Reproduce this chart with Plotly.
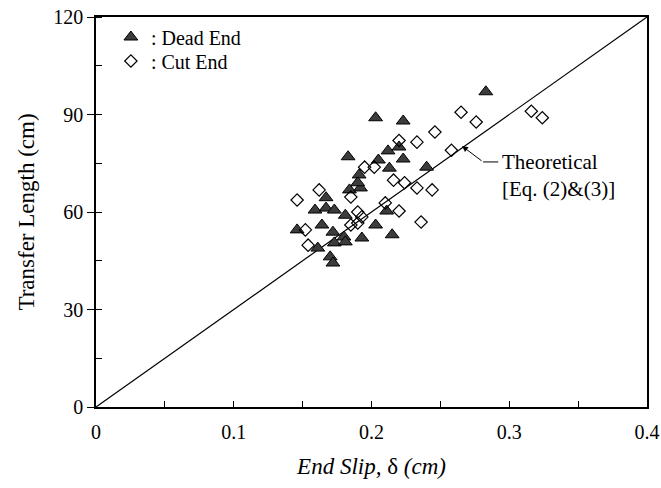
import plotly.graph_objects as go

# Dead End (filled triangles)
dead_slip = [0.146, 0.159, 0.161, 0.164, 0.167, 0.167, 0.170, 0.172, 0.172, 0.173,
             0.173, 0.180, 0.181, 0.181, 0.183, 0.184, 0.191, 0.192, 0.190, 0.193,
             0.203, 0.203, 0.205, 0.211, 0.212, 0.213, 0.215, 0.220, 0.223, 0.223,
             0.240, 0.283]
dead_len = [54.5, 60.6, 48.9, 56.0, 64.4, 61.2, 46.2, 44.3, 53.8, 60.6,
            50.5, 52.3, 50.8, 59.0, 77.0, 66.8, 71.4, 67.4, 69.0, 52.0,
            89.0, 56.0, 76.0, 60.3, 78.8, 73.5, 53.0, 80.0, 88.0, 76.3,
            73.8, 97.0]

# Cut End (open diamonds)
cut_slip = [0.146, 0.152, 0.154, 0.162, 0.185, 0.185, 0.190, 0.193, 0.190, 0.195,
            0.202, 0.210, 0.216, 0.220, 0.220, 0.224, 0.233, 0.233, 0.236, 0.244,
            0.246, 0.258, 0.265, 0.276, 0.316, 0.324]
cut_len = [63.7, 54.5, 49.8, 66.8, 64.6, 56.0, 60.0, 58.5, 56.6, 73.8,
           73.8, 62.8, 69.8, 82.0, 60.3, 69.0, 81.5, 67.4, 56.9, 66.8,
           84.6, 79.0, 90.7, 87.7, 91.0, 89.0]

# Theoretical line endpoints
theo_slip = [0.0, 0.4]
theo_len = [0.0, 120.0]

x_ticks = [0, 0.1, 0.2, 0.3, 0.4]
x_tick_text = ["0", "0.1", "0.2", "0.3", "0.4"]
y_ticks = [0, 30, 60, 90, 120]

FONT = "Liberation Serif"

fig = go.Figure()
fig.add_trace(go.Scatter(x=theo_slip, y=theo_len, mode="lines",
                         line=dict(color="black", width=1.2), showlegend=False,
                         hoverinfo="skip"))
fig.add_trace(go.Scatter(x=dead_slip, y=dead_len, mode="markers", name=": Dead End",
                         legend="legend",
                         marker=dict(symbol="triangle-up", size=12, color="#3c3c3c",
                                     line=dict(color="black", width=1))))
fig.add_trace(go.Scatter(x=cut_slip, y=cut_len, mode="markers", name=": Cut End",
                         legend="legend2",
                         marker=dict(symbol="diamond-open", size=9.5, color="black",
                                     line=dict(color="black", width=1.2))))

# Annotation: bent leader with arrow
fig.add_annotation(x=0.2657, y=80.3, ax=0.281, ay=75.4, axref="x", ayref="y",
                   xref="x", yref="y", text="", showarrow=True, arrowhead=2,
                   arrowsize=1.2, arrowwidth=1, arrowcolor="black")
fig.add_shape(type="line", x0=0.281, y0=75.4, x1=0.292, y1=75.4, xref="x", yref="y",
              line=dict(color="black", width=1))
fig.add_annotation(x=0.2935, y=71.2, xref="x", yref="y",
                   text="Theoretical<br>[Eq. (2)&amp;(3)]",
                   showarrow=False, xanchor="left", yanchor="middle", align="left",
                   font=dict(family=FONT, size=21, color="black"))

legend_common = dict(xanchor="left", yanchor="middle",
                     font=dict(family=FONT, size=20, color="black"),
                     bgcolor="rgba(0,0,0,0)", borderwidth=0)

fig.update_layout(
    width=661, height=488,
    margin=dict(l=96, r=14, t=17, b=81),
    paper_bgcolor="white", plot_bgcolor="white",
    font=dict(family=FONT, size=20, color="black"),
    legend=dict(x=0.027, y=0.9487, **legend_common),
    legend2=dict(x=0.027, y=0.8872, **legend_common),
    showlegend=True,
)
fig.update_xaxes(range=[0, 0.4], tickvals=x_ticks, ticktext=x_tick_text,
                 automargin=False,
                 showgrid=False, zeroline=False, showline=True, linecolor="black",
                 linewidth=1.5, mirror=True, ticks="inside", ticklen=6,
                 tickcolor="black", ticklabelstandoff=6, ticklabeloverflow="allow",
                 tickfont=dict(family=FONT, size=20),
                 minor=dict(dtick=0.05, tick0=0, ticks="inside", ticklen=6,
                            tickcolor="black", showgrid=False),
                 title=dict(text="<i>End Slip, </i>δ<i> (cm)</i>", standoff=16,
                            font=dict(family=FONT, size=23)))
fig.update_yaxes(range=[0, 120], tickvals=y_ticks,
                 automargin=False,
                 showgrid=False, zeroline=False, showline=True, linecolor="black",
                 linewidth=1.5, mirror=True, ticks="outside", ticklen=7,
                 tickcolor="black", ticklabeloverflow="allow",
                 tickfont=dict(family=FONT, size=20),
                 minor=dict(dtick=15, tick0=0, ticks="inside", ticklen=6,
                            tickcolor="black", showgrid=False),
                 title=dict(text="Transfer Length (cm)", standoff=12,
                            font=dict(family=FONT, size=23)))

fig.write_html("out.html")
